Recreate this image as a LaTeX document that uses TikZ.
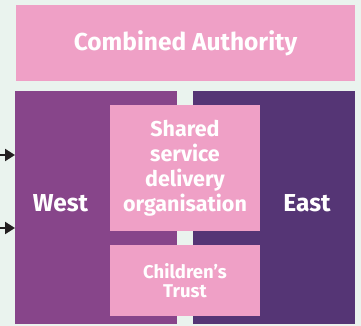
\documentclass[tikz,border=0pt]{standalone}
\usepackage{fontspec}
\setmainfont{Fira Sans}
\usetikzlibrary{arrows.meta}
\definecolor{bgc}{HTML}{EAF3EE}
\definecolor{pinkc}{HTML}{EFA0C6}
\definecolor{westc}{HTML}{87458A}
\definecolor{eastc}{HTML}{553575}
\definecolor{arrc}{HTML}{231F20}
\begin{document}
\begin{tikzpicture}[x=1pt,y=-1pt,
  box/.style={inner sep=0pt, outer sep=0pt, text=white, font=\bfseries, align=center},
  arr/.style={line width=2.2pt, -{Triangle[length=10pt,width=12pt]}, arrc}]
\fill[bgc] (0,0) rectangle (361,326);
\useasboundingbox (0,0) rectangle (361,326);
\node[box, fill=pinkc, minimum width=339pt, minimum height=76pt, font=\bfseries\fontsize{24.5}{27}\selectfont] (ca) at (185.5,43) {Combined Authority};
\node[box, fill=westc, minimum width=162pt, minimum height=233pt] (west) at (96,207.5) {};
\node[box, fill=eastc, minimum width=162pt, minimum height=233pt] (east) at (274,207.5) {};
\node[box, font=\bfseries\fontsize{24.5}{27}\selectfont] (wl) at (60.5,203) {West};
\node[box, font=\bfseries\fontsize{24.5}{27}\selectfont] (el) at (307,203) {East};
\node[box, fill=pinkc, minimum width=150pt, minimum height=126pt, font=\bfseries\fontsize{21.5}{25}\selectfont] (sh) at (185,168) {Shared\\service\\delivery\\organisation};
\node[box, fill=pinkc, minimum width=150pt, minimum height=71pt, font=\bfseries\fontsize{18.5}{19.5}\selectfont] (ct) at (185,280.5) {Children’s\\Trust};
\coordinate (a1) at (0,155);
\coordinate (a2) at (0,228);
\draw[arr] (a1) -- (a1 -| west.west);
\draw[arr] (a2) -- (a2 -| west.west);
\end{tikzpicture}
\end{document}
